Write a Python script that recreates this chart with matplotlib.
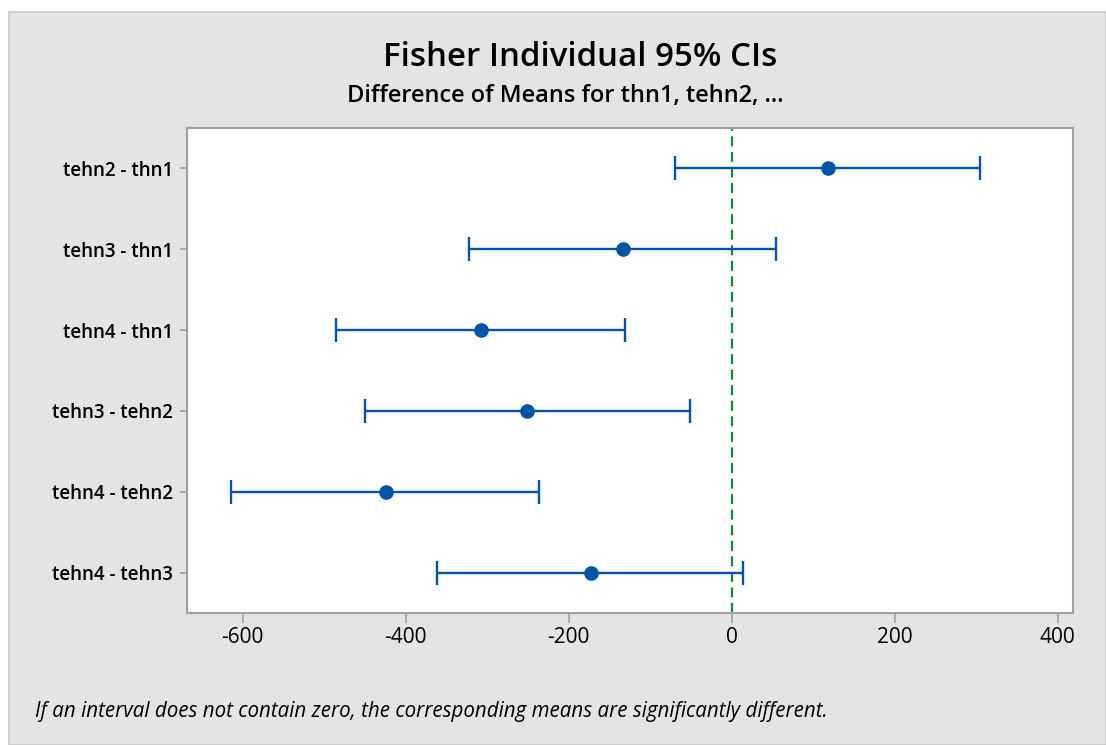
import matplotlib.pyplot as plt
from matplotlib.patches import Rectangle

# pairwise differences
labels = ["tehn2 - thn1", "tehn3 - thn1", "tehn4 - thn1",
          "tehn3 - tehn2", "tehn4 - tehn2", "tehn4 - tehn3"]
center = [118, -133, -308, -251, -424, -173]
lower = [-70, -322, -486, -450, -614, -361]
upper = [305, 54, -131, -51, -236, 14]
xticks = [-600, -400, -200, 0, 200, 400]

W, H = 1106, 745
fig = plt.figure(figsize=(W / 100, H / 100), dpi=100, facecolor="white")

# gray panel behind everything
fig.patches.append(Rectangle((9 / W, 0), 1 - 9 / W, 1 - 12 / H,
                             transform=fig.transFigure, facecolor="#e4e4e4",
                             edgecolor="#c8c8c8", linewidth=1.2, zorder=-10))

ax = fig.add_axes([186.7 / W, 1 - 613.3 / H, (1072.7 - 186.7) / W, (613.3 - 127.7) / H])
ax.set_facecolor("white")

y = list(range(1, len(labels) + 1))
xerr = [[c - lo for c, lo in zip(center, lower)],
        [hi - c for c, hi in zip(center, upper)]]

ax.axvline(0, color="#0f8a36", linestyle=(0, (4.5, 2.5)), linewidth=1.6, zorder=1)
ax.errorbar(center, y, xerr=xerr, fmt="o", color="#0054a6", ms=9.5,
            elinewidth=1.7, capsize=8.5, capthick=1.7, zorder=2)

ax.set_xlim(-668.7, 418.4)
ax.set_ylim(len(labels) + 0.5, 0.5)
ax.set_xticks(xticks)
ax.set_xticklabels([str(v) for v in xticks], fontsize=15, family="Open Sans")
ax.set_yticks(y)
ax.set_yticklabels(labels, fontsize=13.5, family="Open Sans", fontweight="semibold")

for s in ax.spines.values():
    s.set_color("#a0a0a0")
    s.set_linewidth(1.5)
ax.tick_params(axis="x", length=7, width=1.2, color="#a0a0a0", pad=3)
ax.tick_params(axis="y", length=5, width=1.2, color="#a0a0a0", pad=5)

fig.text(580 / W, 1 - 58 / H, "Fisher Individual 95% CIs", ha="center", va="center",
         fontsize=23.8, family="Open Sans", fontweight="semibold")
fig.text(565 / W, 1 - 96 / H, "Difference of Means for thn1, tehn2, ...", ha="center",
         va="center", fontsize=17, family="Open Sans", fontweight="semibold")
fig.text(35 / W, 1 - 712 / H,
         "If an interval does not contain zero, the corresponding means are significantly different.",
         ha="left", va="center", fontsize=14.8, family="Open Sans", style="italic")

fig.savefig("out.png", dpi=100, facecolor=fig.get_facecolor())
